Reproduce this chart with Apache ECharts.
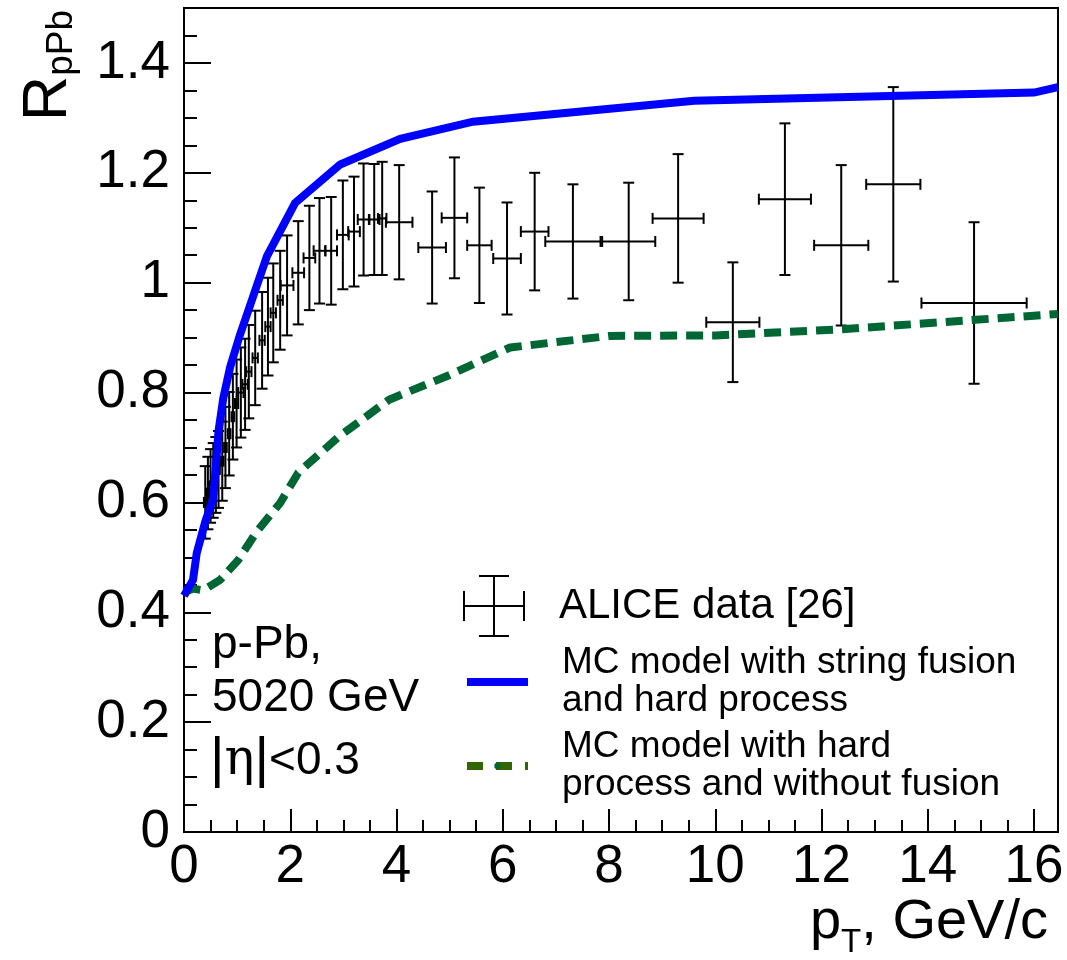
<!DOCTYPE html>
<html><head><meta charset="utf-8">
<script src="https://cdn.jsdelivr.net/npm/echarts@6/dist/echarts.min.js"></script>
<style>html,body{margin:0;padding:0;background:#fff}#chart{width:1067px;height:960px}</style>
</head><body><div id="chart"></div>
<script>
// ALICE data points: pT centre, R_pPb, half-width in pT, half-height (error)
const aliceX = [0.40,0.45,0.50,0.55,0.60,0.65,0.72,0.78,0.85,0.92,0.99,1.07,1.15,1.22,1.34,1.47,1.58,1.68,1.81,1.94,2.15,2.36,2.55,2.77,2.99,3.20,3.38,3.58,3.73,4.05,4.67,5.09,5.56,6.08,6.60,7.32,8.37,9.30,10.33,11.31,12.37,13.35,14.87];
const aliceY = [0.600,0.617,0.630,0.640,0.650,0.660,0.675,0.700,0.725,0.756,0.780,0.800,0.815,0.838,0.863,0.895,0.920,0.945,0.968,0.995,1.018,1.045,1.058,1.058,1.087,1.093,1.115,1.115,1.117,1.110,1.064,1.118,1.068,1.044,1.093,1.075,1.075,1.117,0.928,1.152,1.068,1.179,0.963];
const aliceXErr = [0.025,0.025,0.025,0.025,0.025,0.025,0.025,0.025,0.025,0.025,0.03,0.05,0.05,0.05,0.05,0.05,0.05,0.05,0.05,0.12,0.11,0.11,0.11,0.11,0.11,0.11,0.11,0.10,0.08,0.25,0.26,0.24,0.23,0.26,0.26,0.52,0.50,0.48,0.50,0.49,0.51,0.51,0.99];
const aliceYErr = [0.066,0.066,0.067,0.068,0.069,0.070,0.072,0.074,0.076,0.078,0.080,0.082,0.083,0.085,0.086,0.088,0.089,0.090,0.090,0.091,0.094,0.095,0.096,0.098,0.099,0.100,0.102,0.101,0.103,0.104,0.102,0.110,0.105,0.102,0.107,0.104,0.107,0.117,0.109,0.138,0.146,0.177,0.147];

// MC model with string fusion and hard process
const fusionX = [0, 0.17, 0.24, 0.40, 0.55, 0.60, 0.65, 0.74, 0.87, 1.05, 1.56, 2.09, 2.94, 4.07, 5.44, 9.6, 16.0, 16.45];
const fusionY = [0.43, 0.459, 0.508, 0.565, 0.607, 0.665, 0.73, 0.79, 0.847, 0.904, 1.048, 1.145, 1.215, 1.262, 1.293, 1.331, 1.346, 1.356];

// MC model with hard process and without fusion
const noFusionX = [0, 0.17, 0.36, 0.68, 1.02, 1.37, 1.81, 2.15, 2.92, 3.86, 5.0, 6.14, 8.0, 10.0, 12.35, 16.45];
const noFusionY = [0.437, 0.443, 0.44, 0.459, 0.495, 0.547, 0.599, 0.654, 0.72, 0.787, 0.832, 0.882, 0.903, 0.904, 0.915, 0.943];

const seriesNames = ['ALICE data [26]', 'MC model with string fusion\nand hard process', 'MC model with hard\nprocess and without fusion'];

const FONT = 'Liberation Sans, Arial, sans-serif';
const chart = echarts.init(document.getElementById('chart'), null, {renderer: 'canvas'});

const aliceData = aliceX.map((x, i) => [x, aliceY[i], aliceXErr[i], aliceYErr[i]]);
const fusionData = fusionX.map((x, i) => [x, fusionY[i]]);
const noFusionData = noFusionX.map((x, i) => [x, noFusionY[i]]);

const crossIcon = 'path://M30,0H32V62H30Z M16,0H46V2H16Z M16,60H46V62H16Z M0,30H62V32H0Z M0,16H2V46H0Z M60,16H62V46H60Z';

function renderErr(params, api) {
  const x = api.value(0), y = api.value(1), xe = api.value(2), ye = api.value(3);
  const lo = api.coord([x, y - ye]), hi = api.coord([x, y + ye]);
  const l = api.coord([x - xe, y]), r = api.coord([x + xe, y]);
  const cap = 5.5;
  const st = {stroke: '#000', lineWidth: 2};
  const mk = (x1, y1, x2, y2) => ({type: 'line', shape: {x1, y1, x2, y2}, style: st});
  return {type: 'group', children: [
    mk(lo[0], lo[1], hi[0], hi[1]),
    mk(l[0], l[1], r[0], r[1]),
    mk(hi[0] - cap, hi[1], hi[0] + cap, hi[1]),
    mk(lo[0] - cap, lo[1], lo[0] + cap, lo[1]),
    mk(l[0], l[1] - cap, l[0], l[1] + cap),
    mk(r[0], r[1] - cap, r[0], r[1] + cap)
  ]};
}

const option = {
  backgroundColor: '#fff',
  animation: false,
  textStyle: {fontFamily: FONT},
  grid: {left: 184, right: 9, top: 8, bottom: 128, show: true, borderColor: '#000', borderWidth: 2, backgroundColor: 'transparent', outerBoundsMode: 'none'},
  xAxis: [{
    type: 'value', min: 0, max: 16.45, interval: 2, position: 'bottom',
    axisLine: {show: true, onZero: false, lineStyle: {color: '#000', width: 2}},
    axisTick: {show: true, inside: true, length: 23, lineStyle: {color: '#000', width: 2}},
    axisLabel: {show: true, color: '#000', fontSize: 53, fontFamily: FONT, margin: 9, showMaxLabel: false},
    splitLine: {show: false},
    name: 'p{t|T}, GeV/c', nameLocation: 'end', nameGap: -10, nameMoveOverlap: false,
    nameTextStyle: {color: '#000', fontSize: 56, fontFamily: FONT, align: 'right', verticalAlign: 'top', lineHeight: 72, padding: [55, 0, 0, 0],
      rich: {t: {fontSize: 33, fontFamily: FONT, color: '#000', lineHeight: 1, verticalAlign: 'bottom'}}}
  }, {
    type: 'value', min: 0, max: 16.45, interval: 0.5, position: 'bottom',
    axisLine: {show: false}, axisLabel: {show: false}, splitLine: {show: false},
    axisTick: {show: true, inside: true, length: 12, lineStyle: {color: '#000', width: 2}}
  }],
  yAxis: [{
    type: 'value', min: 0, max: 1.5, interval: 0.2, position: 'left',
    axisLine: {show: true, onZero: false, lineStyle: {color: '#000', width: 2}},
    axisTick: {show: true, inside: true, length: 27, lineStyle: {color: '#000', width: 2}},
    axisLabel: {show: true, color: '#000', fontSize: 53, fontFamily: FONT, margin: 14, showMaxLabel: false,
      formatter: v => String(Math.round(v * 10) / 10)},
    splitLine: {show: false},
    name: 'R{s|pPb}', nameLocation: 'end', nameGap: -2, nameRotate: 90, nameMoveOverlap: false,
    nameTextStyle: {color: '#000', fontSize: 63, fontFamily: FONT, align: 'right', verticalAlign: 'bottom', lineHeight: 62, padding: [0, 0, 104, 0],
      rich: {s: {fontSize: 37, fontFamily: FONT, color: '#000', lineHeight: 1, verticalAlign: 'bottom'}}}
  }, {
    type: 'value', min: 0, max: 1.5, interval: 0.05, position: 'left',
    axisLine: {show: false}, axisLabel: {show: false}, splitLine: {show: false},
    axisTick: {show: true, inside: true, length: 13, lineStyle: {color: '#000', width: 2}}
  }],
  legend: [{
    data: [{name: seriesNames[0], icon: crossIcon}],
    orient: 'vertical', left: 463, top: 575, padding: 0, selectedMode: false,
    itemWidth: 62, itemHeight: 62,
    textStyle: {fontSize: 42, fontFamily: FONT, color: '#000', padding: [0, 0, 4, 29]}
  }, {
    data: [{name: seriesNames[1]}],
    orient: 'vertical', left: 463, top: 635, padding: 0, selectedMode: false,
    itemWidth: 61, itemHeight: 8, lineStyle: {width: 8},
    textStyle: {fontSize: 37, lineHeight: 38, fontFamily: FONT, color: '#000', padding: [0, 0, 18, 29]}
  }, {
    data: [{name: seriesNames[2], lineStyle: {color: '#336600', type: [16, 13], width: 8}}],
    orient: 'vertical', left: 463, top: 713, padding: 0, selectedMode: false,
    itemWidth: 61, itemHeight: 8, lineStyle: {width: 8},
    textStyle: {fontSize: 37, lineHeight: 38, fontFamily: FONT, color: '#000', padding: [0, 0, 30, 29]}
  }],
  graphic: [
    {type: 'text', x: 212, y: 645, style: {text: 'p-Pb,', font: '46px ' + FONT, fill: '#000', verticalAlign: 'middle'}},
    {type: 'text', x: 212, y: 698, style: {text: '5020 GeV', font: '46px ' + FONT, fill: '#000', verticalAlign: 'middle'}},
    {type: 'text', x: 210, y: 761, style: {text: '{b||}{e|η}{b||}<0.3', font: '46px ' + FONT, fill: '#000', verticalAlign: 'middle',
      rich: {e: {fontSize: 50, fontFamily: 'DejaVu Serif, Liberation Serif, serif', fill: '#000'},
             b: {fontSize: 56, fontFamily: FONT, fill: '#000'}}}}
  ],
  series: [{
    name: seriesNames[0], type: 'custom', renderItem: renderErr, data: aliceData,
    encode: {x: 0, y: 1}, itemStyle: {color: '#000'}, z: 1, clip: true
  }, {
    name: seriesNames[1], type: 'line', data: fusionData, symbol: 'none', showSymbol: false,
    lineStyle: {color: '#0000ff', width: 8, join: 'miter'}, itemStyle: {color: '#0000ff'}, z: 3
  }, {
    name: seriesNames[2], type: 'line', data: noFusionData, symbol: 'none', showSymbol: false,
    lineStyle: {color: '#006633', width: 8, type: [17, 9]}, itemStyle: {color: '#006633'}, z: 2
  }]
};
chart.setOption(option);
</script>
</body></html>
